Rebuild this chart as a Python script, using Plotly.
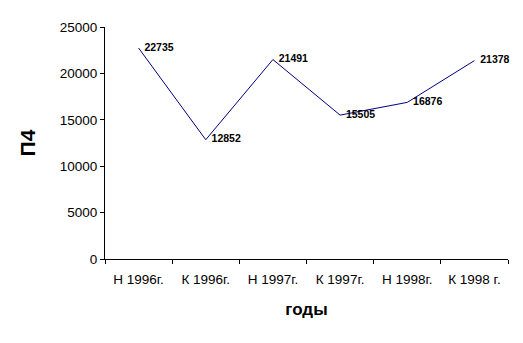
import plotly.graph_objects as go

categories = ["Н 1996г.", "К 1996г.", "Н 1997г.", "К 1997г.", "Н 1998г.", "К 1998 г."]
values = [22735, 12852, 21491, 15505, 16876, 21378]
y_ticks = [0, 5000, 10000, 15000, 20000, 25000]

fig = go.Figure()
fig.add_trace(go.Scatter(
    x=categories, y=values, mode="lines+text",
    line=dict(color="#000080", width=1),
    text=["  " + str(v) for v in values],
    textposition="middle right",
    textfont=dict(family="Liberation Sans, Arial", size=10.5, color="black", weight="bold"),
    cliponaxis=False,
    hoverinfo="skip",
))

fig.update_layout(
    width=523, height=343,
    margin=dict(l=105, r=15, t=27, b=84),
    paper_bgcolor="white", plot_bgcolor="white",
    showlegend=False,
    font=dict(family="Liberation Sans, Arial", size=13.5, color="black"),
)
fig.update_xaxes(
    type="category", range=[-0.5, 5.5],
    showline=True, linecolor="black", linewidth=1,
    ticks="outside", tickson="boundaries", ticklen=4, tickcolor="black",
    ticklabelstandoff=8,
    showgrid=False, zeroline=False,
    title=dict(text="<b>годы</b>", font=dict(size=17), standoff=16),
)
fig.update_yaxes(
    range=[0, 25000], tickvals=y_ticks, ticktext=[str(t) for t in y_ticks],
    showline=True, linecolor="black", linewidth=1,
    ticks="outside", ticklen=4, tickcolor="black",
    showgrid=False, zeroline=False,
    title=dict(text="<b>П4</b>", font=dict(size=21), standoff=18),
)

fig.write_html("out.html")
